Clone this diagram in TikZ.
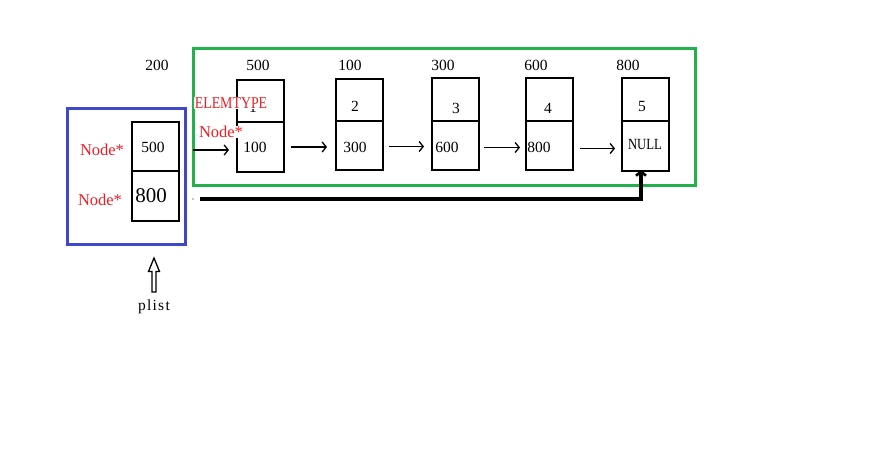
\documentclass[tikz,border=0pt]{standalone}
\usepackage{fontspec}
\setmainfont{Liberation Serif}
\usetikzlibrary{arrows.meta,calc}
\definecolor{pgreen}{RGB}{34,177,76}
\definecolor{pblue}{RGB}{63,72,204}
\definecolor{pred}{RGB}{237,28,36}
\begin{document}
\begin{tikzpicture}[x=1pt,y=-1pt,
  cell/.style={draw=black,line width=1.4pt,minimum width=47pt,inner sep=0pt,outer sep=0pt},
  num/.style={font=\fontsize{15.5}{15.5}\selectfont,inner sep=0pt},
  addr/.style={font=\fontsize{15.5}{15.5}\selectfont,inner sep=0pt},
  redlbl/.style={text=pred,font=\fontsize{16.5}{16.5}\selectfont,inner sep=0.5pt},
  ptr/.style={line width=1.3pt,-{Straight Barb[length=4pt,width=10pt,line width=1.3pt]}},
  bigptr/.style={line width=3.3pt,-{Straight Barb[length=4pt,width=10pt,line width=2.6pt]}}]
\useasboundingbox (0,0) rectangle (877,460);
% containers
\node[draw=pblue,line width=3pt,minimum width=118pt,minimum height=136pt,inner sep=0pt] (blue) at (126,176) {};
\node[draw=pgreen,line width=3pt,minimum width=502pt,minimum height=136pt,inner sep=0pt] (green) at (444,117) {};
% head cell
\node[cell,minimum height=49pt] (h1) at (155.5,146.5) {};
\node[cell,minimum height=50pt] (h2) at (155.5,196) {};
% list nodes
\node[cell,minimum height=42pt] (n1a) at (260.5,101) {};
\node[cell,minimum height=50pt] (n1b) at (260.5,147) {};
\node[cell,minimum height=42pt] (n2a) at (359.5,100) {};
\node[cell,minimum height=49pt] (n2b) at (359.5,145.5) {};
\node[cell,minimum height=43pt] (n3a) at (455.5,99.5) {};
\node[cell,minimum height=49pt] (n3b) at (455.5,145.5) {};
\node[cell,minimum height=43pt] (n4a) at (549.5,99.5) {};
\node[cell,minimum height=49pt] (n4b) at (549.5,145.5) {};
\node[cell,minimum height=43pt] (n5a) at (645.5,99.5) {};
\node[cell,minimum height=50pt] (n5b) at (645.5,146) {};
% addresses
\node[addr] (a200) at (157,65) {200};
\node[addr] (a500) at (258,65) {500};
\node[addr] (a100) at (350,65) {100};
\node[addr] (a300) at (443,65) {300};
\node[addr] (a600) at (536,65) {600};
\node[addr] (a800) at (628,65) {800};
% contents
\node[num] (t500) at (153,147) {500};
\node[num,font=\fontsize{21}{21}\selectfont] (t800) at (151,196) {800};
\node[num] (v1) at (253,107) {1};
\node[num] (p1) at (255,147) {100};
\node[num] (v2) at (355,106) {2};
\node[num] (p2) at (355,147) {300};
\node[num] (v3) at (456,108) {3};
\node[num] (p3) at (447,147) {600};
\node[num] (v4) at (548,108) {4};
\node[num] (p4) at (539,147) {800};
\node[num] (v5) at (642,107) {5};
\node[num,xscale=0.82] (p5) at (645,144) {NULL};
% red labels
\node[redlbl] (r1) at (102,150) {Node*};
\node[redlbl] (r2) at (100,200) {Node*};
\node[redlbl,fill=white,xscale=0.84] (elem) at (231,103) {ELEMTYPE};
\node[redlbl,fill=white] (r3) at (221,132) {Node*};
% pointers
\coordinate (s0) at (193,150);
\draw[ptr] (s0) -- (229,150);
\draw[ptr] ([xshift=7pt]n1b.east) -- ([xshift=-9pt]n1b.east -| n2b.west);
\draw[ptr] ([xshift=6pt,yshift=-1pt]n2b.east) -- ([xshift=-8pt,yshift=-1pt]n2b.east -| n3b.west);
\draw[ptr] ([xshift=5pt,yshift=-2pt]n3b.east) -- ([xshift=-6pt,yshift=-2pt]n3b.east -| n4b.west);
\draw[ptr] ([xshift=7pt,yshift=-3pt]n4b.east) -- ([xshift=-7pt,yshift=-3pt]n4b.east -| n5b.west);
% long pointer
\coordinate (ls) at (200,199);
\fill (193,199) circle (0.7pt);
\draw[bigptr] (ls) -| ([xshift=-4.5pt,yshift=1pt]n5b.south);
% plist arrow
\draw[line width=1.3pt,fill=white] (154,258) -- (148.5,271.5) -- (152,271.5) -- (152,292) -- (156,292) -- (156,271.5) -- (159.5,271.5) -- cycle;
\node[font=\addfontfeature{LetterSpace=8}\fontsize{15.5}{15.5}\selectfont,inner sep=0pt] (plist) at (154,307) {plist};
\end{tikzpicture}
\end{document}
